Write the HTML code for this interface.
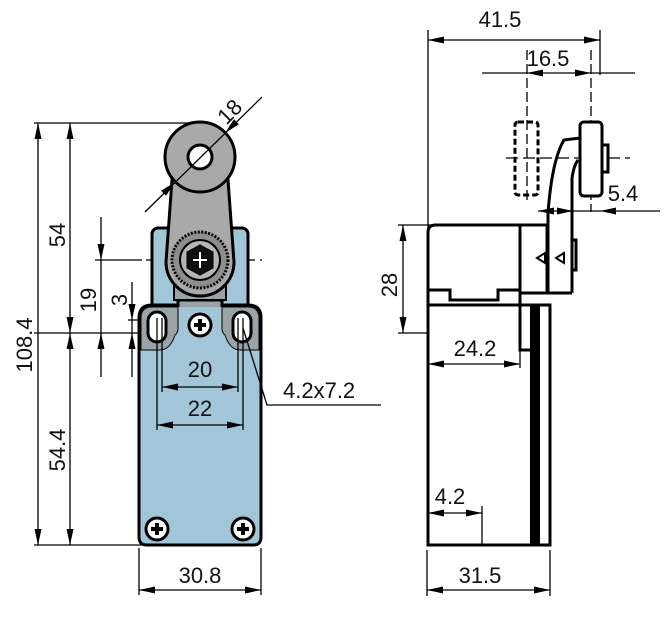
<!DOCTYPE html>
<html><head><meta charset="utf-8"><style>
html,body{margin:0;padding:0;background:#fff;}
svg{display:block;}
text{font-family:"Liberation Sans",Arial,sans-serif;font-size:22px;fill:#111;}
</style></head><body>
<svg width="664" height="620" viewBox="0 0 664 620" xmlns="http://www.w3.org/2000/svg">
<defs>
<path id="ar" d="M0,0 L-16,-3.5 L-16,3.5Z" fill="#000"/>
</defs>
<g stroke="#000" fill="none" stroke-width="1.3">
<line x1="34" y1="123" x2="205" y2="123"/>
<line x1="34" y1="333" x2="146" y2="333"/>
<line x1="34" y1="545" x2="142" y2="545"/>
<line x1="95" y1="260" x2="142" y2="260"/>
<line x1="146" y1="260" x2="262" y2="260" stroke-dasharray="14,5"/>
<line x1="128" y1="320" x2="146" y2="320"/>
<line x1="38" y1="123" x2="38" y2="545"/>
<line x1="70" y1="123" x2="70" y2="545"/>
<line x1="101" y1="217" x2="101" y2="377"/>
<line x1="132" y1="282" x2="132" y2="377"/>
</g>
<text transform="translate(32,345) rotate(-90)" text-anchor="middle">108.4</text>
<text transform="translate(65,235) rotate(-90)" text-anchor="middle">54</text>
<text transform="translate(65,450) rotate(-90)" text-anchor="middle">54.4</text>
<text transform="translate(96,300) rotate(-90)" text-anchor="middle">19</text>
<text transform="translate(127,300) rotate(-90)" text-anchor="middle">3</text>

<g stroke="#000" stroke-width="3">
<rect x="152" y="228" width="96" height="82" rx="6" fill="#a3c5d8"/>
<path d="M139,318 Q139,305 152,305 L248,305 Q261,305 261,318 L261,537 Q261,545 253,545 L147,545 Q139,545 139,537 Z" fill="#a3c5d8"/>
<path d="M141,350 L141,318 Q141,307 152,307 L178,307 L178,328 Q178,333 175,335 Q170,350 160,350 Z" fill="#9aa3a8" stroke-width="1"/>
<path d="M259,350 L259,318 Q259,307 248,307 L222,307 L222,328 Q222,333 225,335 Q230,350 240,350 Z" fill="#9aa3a8" stroke-width="1"/>
<path d="M178,307 L178,300 L222,300 L222,307" fill="#9aa3a8"/>
<path d="M174,285 L174,300 L226,300 L226,285 Z" fill="#9aa3a8" stroke-width="2"/>
<path d="M172,180 L166,262 A34,34 0 0 0 234,262 L228,180 Z" fill="#a9a9a9"/>
<circle cx="200" cy="157" r="35" fill="#a9a9a9"/>
<circle cx="200" cy="157" r="12" fill="#fff"/>
<circle cx="200" cy="260" r="28" fill="#8e8e8e" stroke-dasharray="2,1.5"/>
<circle cx="200" cy="260" r="20" fill="#b5b5b5" stroke-width="2"/>
<polygon points="200,245 213,252 213,268 200,275 187,268 187,252" fill="#111" stroke-width="1"/>
<rect x="148" y="312" width="18" height="30" rx="9" fill="#fff"/>
<rect x="233" y="312" width="18" height="30" rx="9" fill="#fff"/>
<circle cx="200" cy="325" r="11" fill="#fff"/>
<circle cx="157" cy="529" r="11" fill="#fff"/>
<circle cx="243" cy="529" r="11" fill="#fff"/>
</g>
<g stroke="#000" stroke-width="4">
<path d="M194,325h12M200,319v12M151,529h12M157,523v12M237,529h12M243,523v12"/>
<path d="M200,252v16M193,260h14" stroke="#fff" stroke-width="2"/>
</g>
<g stroke="#000" fill="none" stroke-width="1.3">
<line x1="157" y1="318" x2="157" y2="430"/>
<line x1="162" y1="318" x2="162" y2="392"/>
<line x1="238" y1="318" x2="238" y2="392"/>
<line x1="243" y1="318" x2="243" y2="430"/>
<line x1="162" y1="387" x2="238" y2="387"/>
<line x1="157" y1="425" x2="243" y2="425"/>
<polyline points="243,328 267,405 381,405"/>
<line x1="139" y1="548" x2="139" y2="595"/>
<line x1="261" y1="548" x2="261" y2="595"/>
<line x1="139" y1="590" x2="261" y2="590"/>
<line x1="145" y1="212" x2="262" y2="97"/>
</g>
<text x="200" y="377" text-anchor="middle">20</text>
<text x="200" y="416" text-anchor="middle">22</text>
<text x="283" y="398">4.2x7.2</text>
<text x="200" y="583" text-anchor="middle">30.8</text>
<text transform="translate(235,117) rotate(-45)" text-anchor="middle">18</text>

<g stroke="#000" fill="none" stroke-width="1.3">
<line x1="428" y1="30" x2="428" y2="228"/>
<line x1="600" y1="30" x2="600" y2="75"/>
<line x1="428" y1="40" x2="600" y2="40"/>
<line x1="527" y1="50" x2="527" y2="200" stroke-dasharray="10,4"/>
<line x1="591" y1="50" x2="591" y2="212" stroke-dasharray="10,4"/>
<line x1="482" y1="73" x2="635" y2="73"/>
<line x1="506" y1="158" x2="630" y2="158" stroke-dasharray="12,5"/>
<line x1="538" y1="211" x2="660" y2="211"/>
<line x1="398" y1="225" x2="432" y2="225"/>
<line x1="398" y1="333" x2="428" y2="333"/>
<line x1="403" y1="225" x2="403" y2="333"/>
<line x1="428" y1="364" x2="520" y2="364"/>
<line x1="520" y1="350" x2="520" y2="368"/>
<line x1="428" y1="513" x2="482" y2="513"/>
<line x1="482" y1="506" x2="482" y2="546"/>
<line x1="427" y1="550" x2="427" y2="596"/>
<line x1="550" y1="550" x2="550" y2="596"/>
<line x1="427" y1="590" x2="550" y2="590"/>
</g>
<!-- arrowheads -->
<use href="#ar" transform="translate(38,123) rotate(-90)"/>
<use href="#ar" transform="translate(38,545) rotate(90)"/>
<use href="#ar" transform="translate(70,123) rotate(-90)"/>
<use href="#ar" transform="translate(70,333) rotate(90)"/>
<use href="#ar" transform="translate(70,333) rotate(-90)"/>
<use href="#ar" transform="translate(70,545) rotate(90)"/>
<use href="#ar" transform="translate(101,260) rotate(90)"/>
<use href="#ar" transform="translate(101,333) rotate(-90)"/>
<use href="#ar" transform="translate(132,320) rotate(90)"/>
<use href="#ar" transform="translate(132,333) rotate(-90)"/>
<use href="#ar" transform="translate(162,387) rotate(180)"/>
<use href="#ar" transform="translate(238,387)"/>
<use href="#ar" transform="translate(157,425) rotate(180)"/>
<use href="#ar" transform="translate(243,425)"/>
<use href="#ar" transform="translate(139,590) rotate(180)"/>
<use href="#ar" transform="translate(261,590)"/>
<use href="#ar" transform="translate(175,182) rotate(-44.5)"/>
<use href="#ar" transform="translate(225,133) rotate(135.5)"/>
<use href="#ar" transform="translate(428,40) rotate(180)"/>
<use href="#ar" transform="translate(600,40)"/>
<use href="#ar" transform="translate(527,73) rotate(180)"/>
<use href="#ar" transform="translate(591,73)"/>
<use href="#ar" transform="translate(538,211) rotate(180)"/>
<use href="#ar" transform="translate(573,211)"/>
<use href="#ar" transform="translate(600,211) rotate(180)"/>
<use href="#ar" transform="translate(403,225) rotate(-90)"/>
<use href="#ar" transform="translate(403,333) rotate(90)"/>
<use href="#ar" transform="translate(428,364) rotate(180)"/>
<use href="#ar" transform="translate(520,364)"/>
<use href="#ar" transform="translate(428,513) rotate(180)"/>
<use href="#ar" transform="translate(482,513)"/>
<use href="#ar" transform="translate(427,590) rotate(180)"/>
<use href="#ar" transform="translate(550,590)"/>

<text x="500" y="27" text-anchor="middle">41.5</text>
<text x="548" y="66" text-anchor="middle">16.5</text>
<text x="623" y="201" text-anchor="middle">5.4</text>
<text transform="translate(397,285) rotate(-90)" text-anchor="middle">28</text>
<text x="475" y="356" text-anchor="middle">24.2</text>
<text x="450" y="504" text-anchor="middle">4.2</text>
<text x="480" y="583" text-anchor="middle">31.5</text>
<g stroke="#000" fill="none" stroke-width="3">
<rect x="515" y="122" width="23" height="73" rx="3" stroke-dasharray="6,3"/>
<rect x="580" y="122" width="22" height="74" rx="4" fill="#fff"/>
<path d="M602,145 h6 v27 h-6"/>
<path d="M548,293 L548,213 Q552,160 564,140 L580,138 M572,293 L572,178 Q574,165 578,160"/>
<path d="M572,240 h4 v30 h-4"/>
<path d="M428,305 L428,232 Q428,225 436,225 L547,225 L547,293 L520,293 L520,305"/>
<path d="M428,290 L450,290 L450,300 L498,300 L498,290 L520,290"/>
<path d="M520,225 L520,293"/>
<path d="M547,293 L572,293"/>
<path d="M428,305 L550,305 L550,545 L428,545 Z"/>
<path d="M520,305 L520,350 L530,350"/>
</g>
<rect x="530" y="305" width="10" height="240" fill="#000"/>
<path d="M537,258 l8,-5 v10 z M556,258 l8,-5 v10 z" fill="none" stroke="#000" stroke-width="2"/>
</svg>
</body></html>
